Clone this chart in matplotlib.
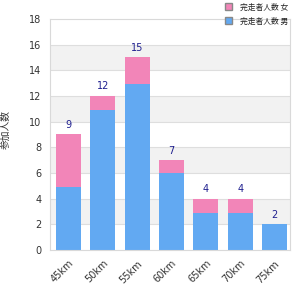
import numpy as np
import matplotlib.pyplot as plt
from matplotlib.patches import Patch

plt.rcParams['font.family'] = ['Noto Sans CJK JP', 'DejaVu Sans']

# data
categories = ['45km', '50km', '55km', '60km', '65km', '70km', '75km']
blue_vals = [4.9, 10.9, 12.9, 6.0, 2.9, 2.9, 2.0]
pink_vals = [4.1, 1.1, 2.1, 1.0, 1.1, 1.1, 0.0]
totals = [9, 12, 15, 7, 4, 4, 2]
series_names = ['完走者人数 女', '完走者人数 男']
y_label = '参加人数'

blue = '#62a9f2'
pink = '#f285b8'

fig = plt.figure(figsize=(3, 3), dpi=100)
ax = fig.add_axes([0.1667, 0.1667, 0.8, 0.77])

x = np.arange(len(categories))

# alternating background bands
for lo in range(2, 18, 4):
    ax.axhspan(lo, lo + 2, color='#f2f2f2', zorder=0, lw=0)
for y in range(2, 18, 2):
    ax.axhline(y, color='#dedede', lw=0.8, zorder=1)

ax.bar(x, blue_vals, width=0.73, color=blue, zorder=2)
ax.bar(x, pink_vals, width=0.73, bottom=blue_vals, color=pink, zorder=2)

for xi, t in zip(x, totals):
    ax.text(xi, t + 0.35, str(t), ha='center', va='bottom',
            fontsize=7, color='#1f1f8f', family='DejaVu Sans')

ax.set_xlim(-0.54, 6.45)
ax.set_ylim(0, 18)
ax.set_yticks(range(0, 19, 2))
ax.set_xticks(x)
ax.set_xticklabels(categories, rotation=45, ha='right', rotation_mode='anchor')
ax.tick_params(length=0, labelsize=7, colors='#333333', pad=6)
for lab in ax.get_xticklabels() + ax.get_yticklabels():
    lab.set_family('DejaVu Sans')

for s in ax.spines.values():
    s.set_color('#d9d9d9')
    s.set_linewidth(0.8)

fig.text(0.02, 0.57, y_label, rotation=90, ha='center', va='center',
         fontsize=7, color='#333333')

handles = [Patch(facecolor=pink, edgecolor='#888888'),
           Patch(facecolor=blue, edgecolor='#888888')]
fig.legend(handles, series_names, loc='upper left', bbox_to_anchor=(0.725, 1.012),
           frameon=False, fontsize=5.6, handlelength=1.0, handleheight=1.0,
           handletextpad=1.0, labelspacing=0.75, labelcolor='#222222')

fig.savefig('out.png', dpi=100)
